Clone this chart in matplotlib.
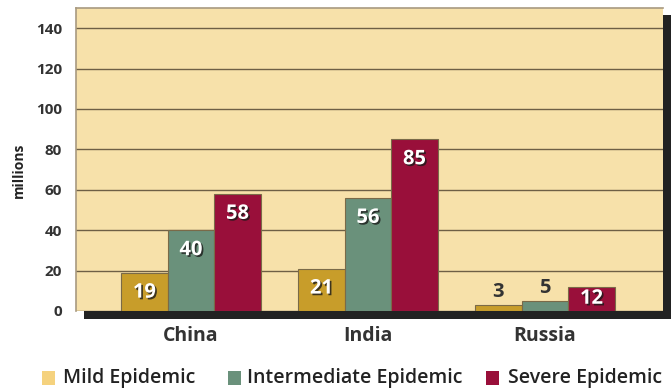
import matplotlib
matplotlib.use("Agg")
import matplotlib.pyplot as plt
from matplotlib.patches import Rectangle
import matplotlib.patheffects as pe
import numpy as np

categories = ["China", "India", "Russia"]
series_names = ["Mild Epidemic", "Intermediate Epidemic", "Severe Epidemic"]
mild = [19, 21, 3]
intermediate = [40, 56, 5]
severe = [58, 85, 12]
yticks = [0, 20, 40, 60, 80, 100, 120, 140]

bar_colors = ["#c89d2a", "#6a917b", "#990f3a"]
legend_colors = ["#f5d27e", "#6a917b", "#990f3a"]
bg = "#f7e1aa"
FONT = "Open Sans"

W, H = 671, 392
fig = plt.figure(figsize=(W / 100, H / 100), dpi=100)
fig.patch.set_facecolor("white")

# axes in pixel geometry
L, R, T, B = 76, 663, 8, 311
ax = fig.add_axes([L / W, 1 - B / H, (R - L) / W, (B - T) / H])
ax.set_zorder(2)

# shadow behind plot area
shadow = Rectangle((84 / W, 1 - 319 / H), (671 - 84) / W, (319 - 15) / H,
                   transform=fig.transFigure, facecolor="#222222",
                   edgecolor="none", zorder=0)
fig.patches.append(shadow)

ax.set_facecolor(bg)
ax.set_xlim(-0.65, 2.667)
ax.set_ylim(0, 150)

x = np.arange(len(categories))
w = 0.263
data = [mild, intermediate, severe]
for i, (vals, col) in enumerate(zip(data, bar_colors)):
    xs = x + (i - 1) * w
    ax.bar(xs, vals, width=w, color=col, edgecolor="#7a6a48",
           linewidth=0.8, zorder=3)
    for xi, v in zip(xs, vals):
        if v >= 10:
            off = -20 if v > 15 else -12
            t = ax.annotate(str(v), (xi, v), xytext=(0, off * 0.72),
                            textcoords="offset points", ha="center", va="center",
                            color="white", fontsize=14.5, fontweight="bold",
                            family=FONT, zorder=5)
            t.set_path_effects([pe.withSimplePatchShadow(offset=(1.2, -1.2),
                                                         shadow_rgbFace="#1a1a1a",
                                                         alpha=0.8)])
        else:
            ax.annotate(str(v), (xi, v), xytext=(0, 13 * 0.72),
                        textcoords="offset points", ha="center", va="center",
                        color="#333333", fontsize=14.5, fontweight="bold",
                        family=FONT, zorder=5)

ax.set_yticks(yticks)
ax.set_yticklabels([str(t) for t in yticks], family=FONT, fontweight="bold",
                   fontsize=11, color="#333333")
ax.yaxis.grid(True, color="#6e5f45", linewidth=1.0, zorder=1)
ax.set_axisbelow(True)
ax.tick_params(axis="y", length=0, pad=10)
ax.set_xticks(x)
ax.set_xticklabels(categories, family=FONT, fontweight="bold", fontsize=14,
                   color="#333333")
ax.tick_params(axis="x", length=0, pad=11)

for s in ["left", "top"]:
    ax.spines[s].set_color("#a89a80")
    ax.spines[s].set_linewidth(1.2)
for s in ["right", "bottom"]:
    ax.spines[s].set_visible(False)

ax.set_ylabel("millions", family=FONT, fontweight="bold", fontsize=10,
              color="#222222")
ax.yaxis.set_label_coords(-0.085, 0.465)

# legend
sq_x = [42, 228, 486]
tx_x = [63, 247, 508]
ly = 378
for sx, tx, name, col in zip(sq_x, tx_x, series_names, legend_colors):
    fig.patches.append(Rectangle((sx / W, 1 - (ly + 7) / H), 13 / W, 14 / H,
                                 transform=fig.transFigure, facecolor=col,
                                 edgecolor="none"))
    fig.text(tx / W, 1 - ly / H, name, family=FONT, fontweight="semibold",
             fontsize=14, color="#222222", ha="left", va="center")

fig.savefig("out.png", dpi=100, facecolor="white")
